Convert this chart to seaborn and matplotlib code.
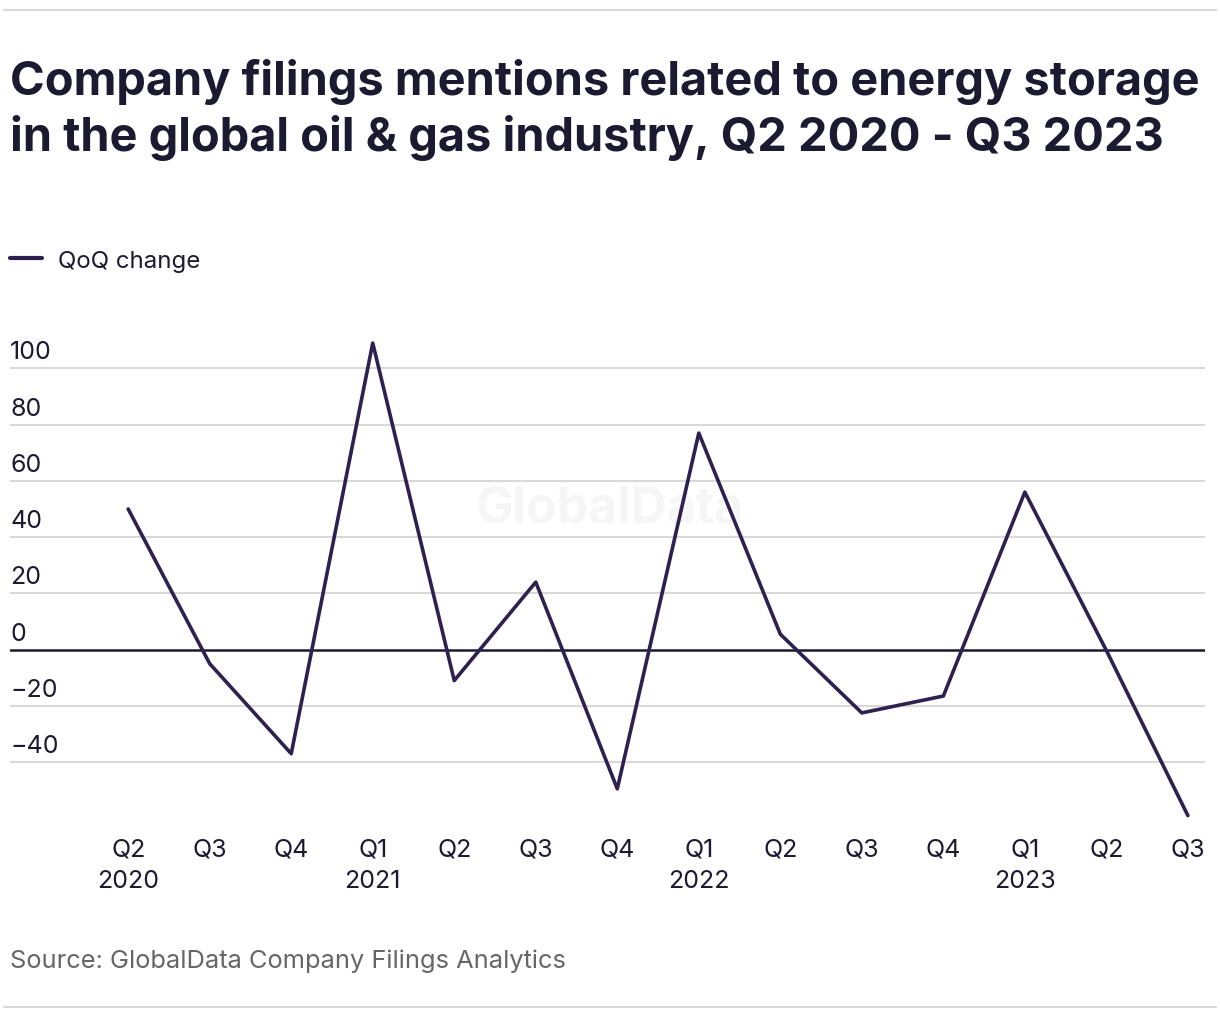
import pandas as pd
import matplotlib.pyplot as plt
import matplotlib.transforms as mtransforms
import seaborn as sns

# chart values
quarters = ["Q2", "Q3", "Q4", "Q1", "Q2", "Q3", "Q4",
            "Q1", "Q2", "Q3", "Q4", "Q1", "Q2", "Q3"]
years = ["2020", "", "", "2021", "", "", "",
         "2022", "", "", "", "2023", "", ""]
qoq_change = [50, -5, -37, 109, -11, 24, -49.5,
              77, 5.5, -22.5, -16.5, 56, -0.3, -59]
y_ticks = [-40, -20, 0, 20, 40, 60, 80, 100]

df = pd.DataFrame({
    "idx": range(len(qoq_change)),
    "label": [q + ("\n" + y if y else "") for q, y in zip(quarters, years)],
    "QoQ change": qoq_change,
})

sns.set_theme(style="white")
plt.rcParams["font.family"] = ["Inter", "DejaVu Sans"]

dark = "#1b1a30"
purple = "#2e2150"

fig = plt.figure(figsize=(12.2, 10.2), dpi=100)
ax = fig.add_axes([10 / 1220, 195 / 1020, 1195 / 1220, 495 / 1020])

# gridlines first so the data line sits on top
for t in y_ticks:
    ax.axhline(t, color=dark if t == 0 else "#d9d9d9",
               lw=1.8 if t == 0 else 1.5, zorder=1)

sns.lineplot(data=df, x="idx", y="QoQ change", ax=ax, color=purple,
             lw=2.6, zorder=3)

ax.set_xlim(-1.45, 13.21)
ax.set_ylim(-62, 114)
ax.set_xticks(df["idx"])
ax.set_xticklabels(df["label"], fontsize=18, color=dark, linespacing=1.45)
ax.tick_params(axis="x", length=0, pad=10)
ax.set_yticks([])
ax.set_xlabel("")
ax.set_ylabel("")
for s in ax.spines.values():
    s.set_visible(False)

# y labels sit just above their gridlines, on the left
trans = mtransforms.blended_transform_factory(ax.transAxes, ax.transData)
for t in y_ticks:
    ax.text(0, t + 1.8, f"{t}".replace("-", "\u2212"), transform=trans,
            ha="left", va="bottom", fontsize=18, color=dark)

# faint watermark
ax.text(0.502, 0.636, "GlobalData", transform=ax.transAxes, ha="center",
        va="center", fontsize=36, fontweight="bold", color="#f6f6f6", zorder=0)

# title
fig.text(10 / 1220, 1 - 110 / 1020,
         "Company filings mentions related to energy storage\n"
         "in the global oil & gas industry, Q2 2020 - Q3 2023",
         ha="left", va="center", fontsize=33.8, fontweight="bold",
         color=dark, linespacing=1.3)

# legend drawn by hand
fig.add_artist(plt.Line2D([10 / 1220, 42 / 1220], [1 - 259 / 1020] * 2,
                          color=purple, lw=3, solid_capstyle="round"))
fig.text(58 / 1220, 1 - 262 / 1020, "QoQ change", ha="left", va="center",
         fontsize=17.3, color=dark)

fig.text(10 / 1220, 1 - 961 / 1020, "Source: GlobalData Company Filings Analytics",
         ha="left", va="center", fontsize=18.3, color="#666666")

# top and bottom rules
fig.add_artist(plt.Line2D([4 / 1220, 1216 / 1220], [1 - 11 / 1020] * 2,
                          color="#d9d9d9", lw=1.5))
fig.add_artist(plt.Line2D([4 / 1220, 1216 / 1220], [1 - 1008 / 1020] * 2,
                          color="#d9d9d9", lw=1.5))

fig.savefig("out.png", dpi=100, facecolor="white")
plt.close()
